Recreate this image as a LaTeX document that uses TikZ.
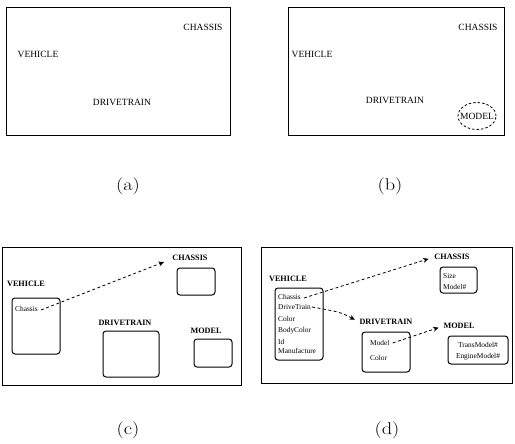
\documentclass[tikz,border=0pt]{standalone}
\usepackage{fontspec}
\setmainfont{Liberation Serif}
\newfontfamily\capfont{Latin Modern Roman}
\usetikzlibrary{arrows.meta,shapes.geometric}
\begin{document}
\begin{tikzpicture}[x=1pt,y=-1pt,
  outer/.style={draw, line width=0.9pt},
  lbl/.style={font=\fontsize{9.5}{10}\selectfont, inner sep=0pt},
  blbl/.style={font=\bfseries\fontsize{8.2}{9}\selectfont, inner sep=0pt},
  item/.style={font=\fontsize{7.4}{8}\selectfont, inner sep=0pt, anchor=west},
  rbox/.style={draw, rounded corners=3pt, line width=1pt},
  link/.style={dashed, dash pattern=on 3pt off 2.5pt, line width=0.8pt, -{Stealth[length=5.5pt,width=5pt]}},
  capt/.style={font=\capfont\fontsize{17}{19}\selectfont, inner sep=0pt}]
\useasboundingbox (0,0) rectangle (515,444);
% ---------- (a)
\draw[outer] (6,7) rectangle (230,135);
\node[lbl] (aC) at (203,27) {CHASSIS};
\node[lbl] (aV) at (38,54) {VEHICLE};
\node[lbl] (aD) at (122,102) {DRIVETRAIN};
\node[capt] (capa) at (128,186) {\scalebox{1.2}[1]{(a)}};
% ---------- (b)
\draw[outer] (288,7) rectangle (504,135);
\node[lbl] (bC) at (478,27) {CHASSIS};
\node[lbl] (bV) at (312,54) {VEHICLE};
\node[lbl] (bD) at (395,100) {DRIVETRAIN};
\node[lbl] (bM) at (477,116) {MODEL};
\node[draw, dashed, dash pattern=on 2.5pt off 2pt, line width=0.8pt, ellipse, minimum width=38pt, minimum height=27pt, inner sep=0pt] (bMe) at (477,116) {};
\node[capt] (capb) at (390,186) {\scalebox{1.2}[1]{(b)}};
% ---------- (c)
\draw[outer] (2,247) rectangle (241,385);
\node[blbl] (cV) at (26,284) {VEHICLE};
\draw[rbox] (12,298) rectangle (60,354);
\node[item] (cVch) at (15,309) {Chassis};
\node[blbl] (cC) at (190,258) {CHASSIS};
\draw[rbox] (177,268) rectangle (215,295);
\node[blbl] (cD) at (125,323) {DRIVETRAIN};
\draw[rbox] (103,331) rectangle (159,377);
\node[blbl] (cM) at (206,331) {MODEL};
\draw[rbox] (194,339) rectangle (232,367);
\coordinate (cEnd) at (164,262);
\draw[link] (cVch.east) ++(3pt,-1pt) -- (cEnd);
\node[capt] (capc) at (128,430) {\scalebox{1.2}[1]{(c)}};
% ---------- (d)
\draw[outer] (261,247) rectangle (512,383);
\node[blbl] (dV) at (288,279) {VEHICLE};
\draw[rbox] (275,288) rectangle (323,360);
\node[item] (dV1) at (278,297) {Chassis};
\node[item] (dV2) at (278,307) {DriveTrain};
\node[item] (dV3) at (278,319) {Color};
\node[item] (dV4) at (278,331) {BodyColor};
\node[item] (dV5) at (278,342) {Id};
\node[item] (dV6) at (278,351) {Manufacture};
\node[blbl] (dC) at (452,257) {CHASSIS};
\draw[rbox] (440,267) rectangle (477,293);
\node[item] (dC1) at (443,276) {Size};
\node[item] (dC2) at (443,287) {Model\#};
\node[blbl] (dD) at (386,322) {DRIVETRAIN};
\draw[rbox] (362,332) rectangle (410,372);
\node[item] (dD1) at (370,343) {Model};
\node[item] (dD2) at (370,358) {Color};
\node[blbl] (dM) at (459,326) {MODEL};
\draw[rbox] (448,336) rectangle (508,364);
\node[font=\fontsize{7.4}{8}\selectfont, inner sep=0pt] (dM1) at (478,345) {TransModel\#};
\node[font=\fontsize{7.4}{8}\selectfont, inner sep=0pt] (dM2) at (478,357) {EngineModel\#};
\draw[link, shorten >=6pt] (dV1.east) ++(3pt,-1pt) -- (dC.west);
\draw[link, shorten >=5pt] (dV2.east) ++(1pt,0pt) .. controls (340,312) .. (dD.west);
\draw[link, shorten >=5pt] (dD1.east) ++(3pt,0pt) -- (dM.west);
\node[capt] (capd) at (387,430) {\scalebox{1.2}[1]{(d)}};
\end{tikzpicture}
\end{document}
